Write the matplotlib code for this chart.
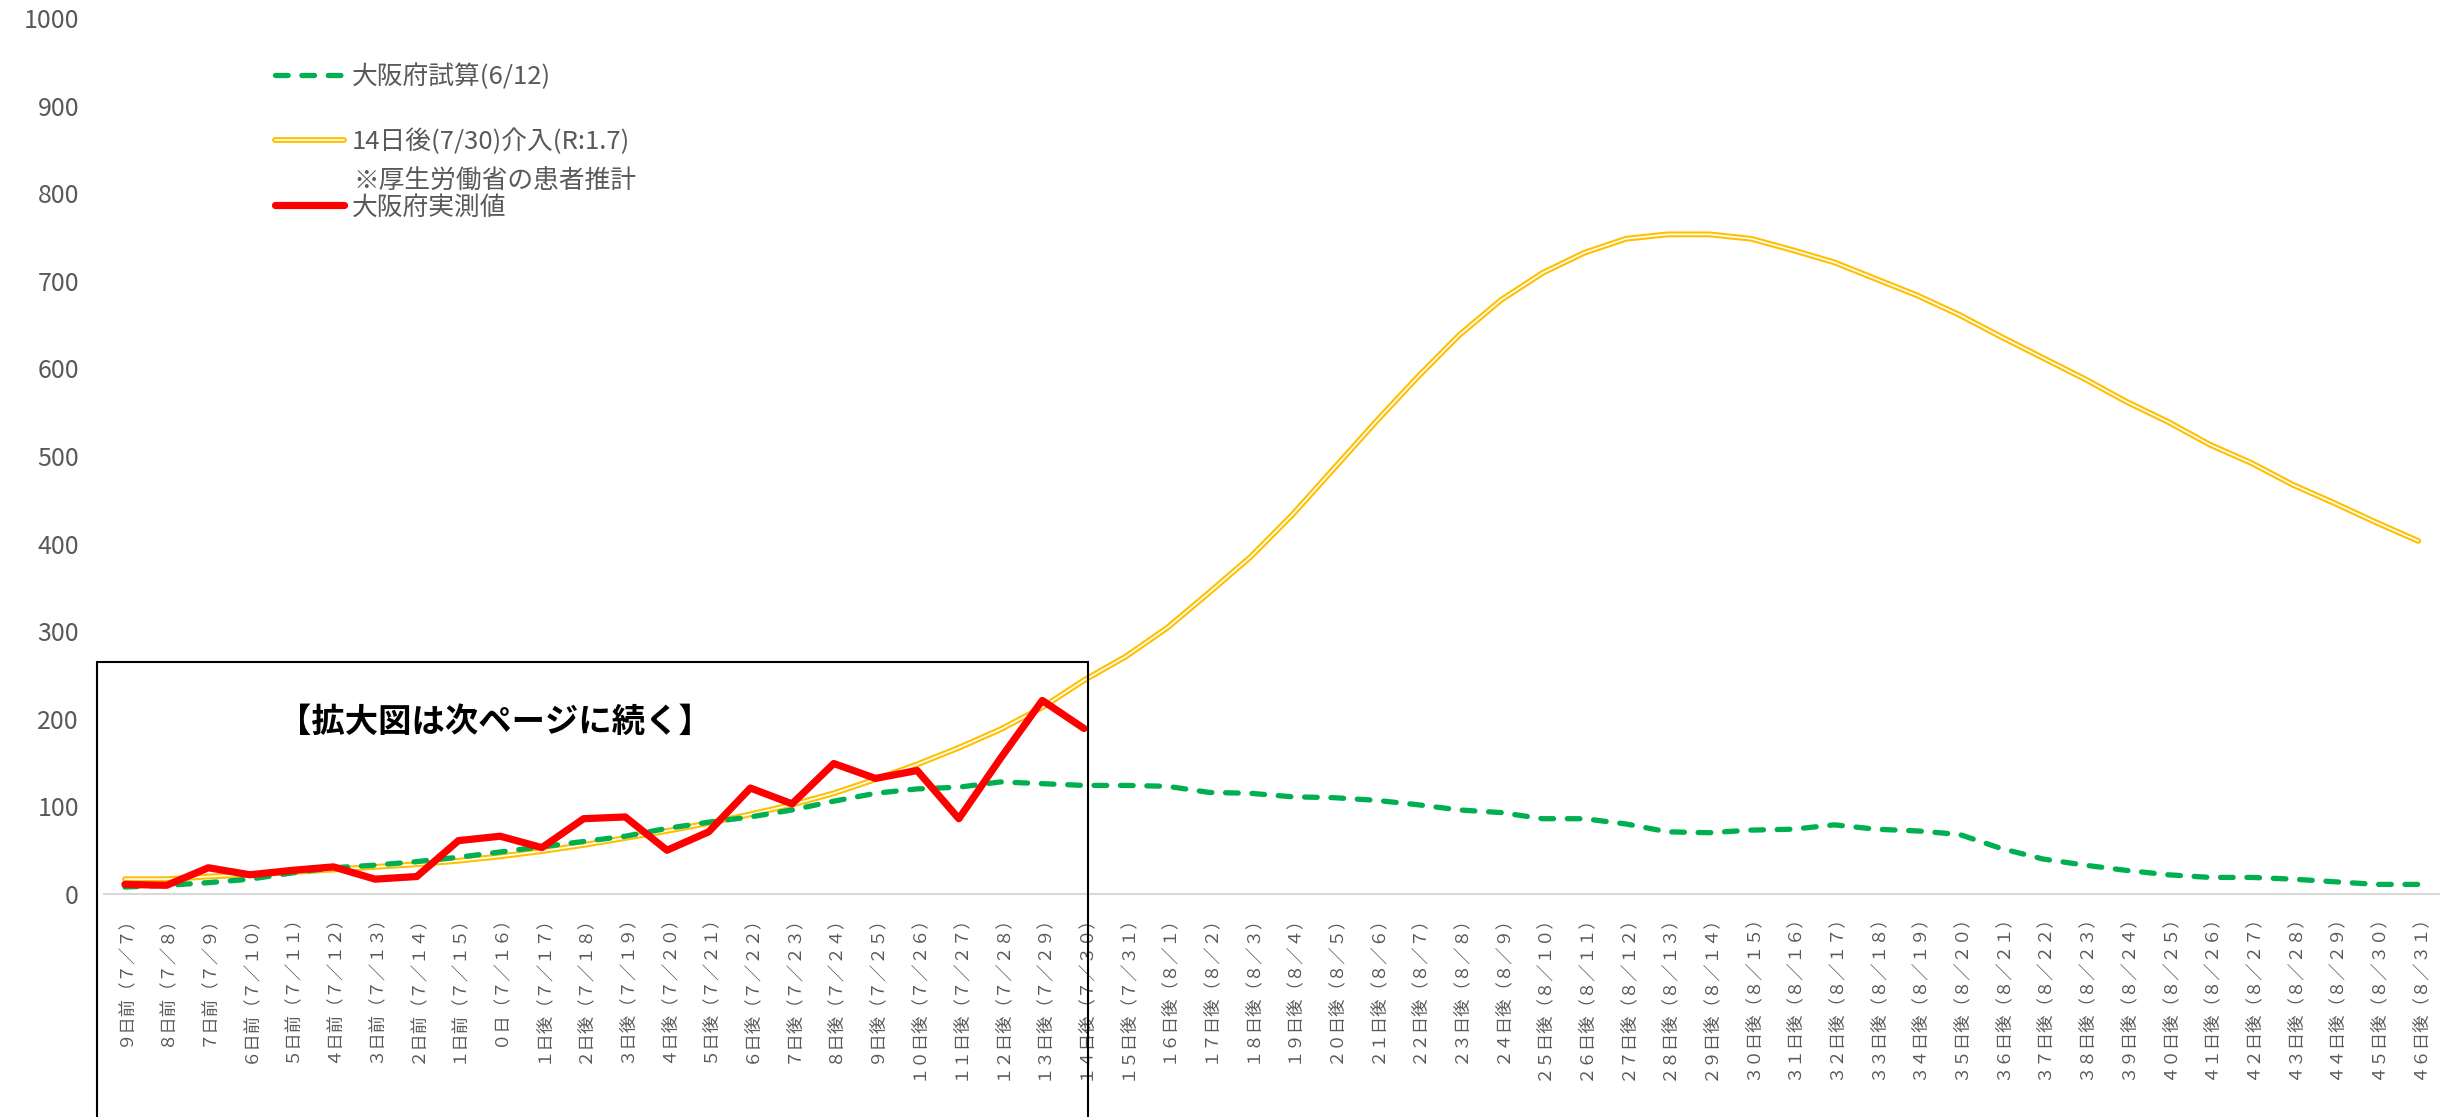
import matplotlib
matplotlib.use("Agg")
import matplotlib.pyplot as plt
import matplotlib.patheffects as pe
from matplotlib.patches import Rectangle
import numpy as np

plt.rcParams['font.family'] = ['Noto Sans CJK JP', 'DejaVu Sans']

# 横軸ラベル（9日前(7/7) ～ 46日後(8/31)）
labels = [
    "９日前（７／７）", "８日前（７／８）", "７日前（７／９）", "６日前（７／１０）", "５日前（７／１１）",
    "４日前（７／１２）", "３日前（７／１３）", "２日前（７／１４）", "１日前（７／１５）", "０日（７／１６）",
    "１日後（７／１７）", "２日後（７／１８）", "３日後（７／１９）", "４日後（７／２０）", "５日後（７／２１）",
    "６日後（７／２２）", "７日後（７／２３）", "８日後（７／２４）", "９日後（７／２５）", "１０日後（７／２６）",
    "１１日後（７／２７）", "１２日後（７／２８）", "１３日後（７／２９）", "１４日後（７／３０）", "１５日後（７／３１）",
    "１６日後（８／１）", "１７日後（８／２）", "１８日後（８／３）", "１９日後（８／４）", "２０日後（８／５）",
    "２１日後（８／６）", "２２日後（８／７）", "２３日後（８／８）", "２４日後（８／９）", "２５日後（８／１０）",
    "２６日後（８／１１）", "２７日後（８／１２）", "２８日後（８／１３）", "２９日後（８／１４）", "３０日後（８／１５）",
    "３１日後（８／１６）", "３２日後（８／１７）", "３３日後（８／１８）", "３４日後（８／１９）", "３５日後（８／２０）",
    "３６日後（８／２１）", "３７日後（８／２２）", "３８日後（８／２３）", "３９日後（８／２４）", "４０日後（８／２５）",
    "４１日後（８／２６）", "４２日後（８／２７）", "４３日後（８／２８）", "４４日後（８／２９）", "４５日後（８／３０）",
    "４６日後（８／３１）",
]

# 大阪府試算(6/12)
osaka_est = [8, 10, 13, 17, 24, 30, 33, 37, 42, 48,
             54, 60, 66, 75, 82, 88, 96, 106, 115, 120,
             122, 128, 126, 124, 124, 123, 116, 115, 111, 110,
             107, 102, 96, 93, 86, 86, 80, 71, 70, 73,
             74, 79, 74, 72, 68, 52, 40, 33, 27, 22,
             19, 19, 17, 14, 11, 11]

# 14日後(7/30)介入(R:1.7) 厚労省の患者推計
mhlw_est = [17, 17, 20, 22, 25, 28, 31, 34, 38, 43,
            49, 56, 64, 72, 81, 91, 102, 115, 131, 148,
            167, 188, 213, 244, 271, 304, 344, 385, 433, 486,
            539, 590, 638, 678, 709, 732, 748, 753, 753, 748,
            735, 721, 702, 683, 661, 636, 612, 588, 562, 539,
            513, 492, 467, 446, 424, 403]

# 大阪府実測値 (7/7 ～ 7/30)
osaka_actual = [11, 10, 30, 22, 27, 31, 17, 20, 61, 66,
                53, 86, 88, 50, 71, 121, 103, 149, 132, 141,
                86, 155, 221, 189]

GREY = "#595959"

x = np.arange(len(labels))
actual = np.full(len(labels), np.nan)
actual[:len(osaka_actual)] = osaka_actual

fig = plt.figure(figsize=(24.43, 11.17), dpi=100)
ax = fig.add_axes([0.0426, 0.1996, 0.9558, 0.7843])

l_yel, = ax.plot(x, mhlw_est, color="white", lw=1.2, zorder=2,
                 solid_joinstyle="round", solid_capstyle="round",
                 path_effects=[pe.Stroke(linewidth=4.2, foreground="#FFC000"), pe.Normal()])
l_grn, = ax.plot(x, osaka_est, color="#00B050", lw=3.8, zorder=3,
                 linestyle=(0, (2.4, 2.6)), dash_capstyle="round")
l_red, = ax.plot(x, actual, color="#FF0000", lw=5.2, zorder=4,
                 solid_joinstyle="round", solid_capstyle="round")

ax.set_xlim(-0.5, len(labels) - 0.5)
ax.set_ylim(0, 1000)
ax.set_yticks(range(0, 1001, 100))
ax.set_xticks(x)
ax.set_xticklabels(labels, rotation=90, va="top", ha="center")
ax.tick_params(axis="x", length=0, pad=9, labelsize=12.5, labelcolor=GREY)
ax.tick_params(axis="y", length=0, pad=18, labelsize=18, labelcolor=GREY)
for s in ["top", "right", "left"]:
    ax.spines[s].set_visible(False)
ax.spines["bottom"].set_color("#D9D9D9")
ax.spines["bottom"].set_linewidth(1.5)

fig.legend(handles=[l_grn, l_yel, l_red],
           labels=["大阪府試算(6/12)", "14日後(7/30)介入(R:1.7)", "大阪府実測値"],
           loc="upper left", bbox_to_anchor=(275 / 2443, 1 - 63 / 1117),
           frameon=False, fontsize=18.5, handlelength=2.7, handletextpad=0.3,
           labelspacing=1.52, borderpad=0, borderaxespad=0, labelcolor=GREY)
fig.text(353 / 2443, 1 - 181 / 1117, "※厚生労働省の患者推計", fontsize=18.5,
         color=GREY, va="center", ha="left")

# 拡大図の枠
fig.add_artist(Rectangle((97 / 2443, -0.01), (1088 - 97) / 2443, (1117 - 662) / 1117 + 0.01,
                         transform=fig.transFigure, fill=False, edgecolor="black",
                         lw=1.5, zorder=10))
fig.text(278 / 2443, 1 - 722 / 1117, "【拡大図は次ページに続く】", fontsize=24,
         fontweight="bold", color="black", va="center", ha="left")

fig.savefig("out.png", dpi=100)
